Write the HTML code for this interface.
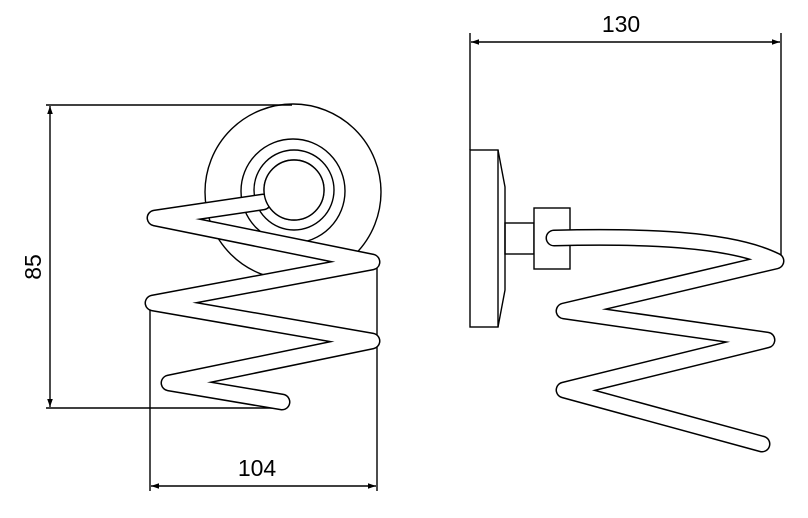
<!DOCTYPE html>
<html><head><meta charset="utf-8"><style>html,body{margin:0;padding:0;background:#fff}svg{display:block}</style></head>
<body>
<svg width="808" height="518" viewBox="0 0 808 518" xmlns="http://www.w3.org/2000/svg">
<defs>
<marker id="a" viewBox="0 0 10 10" refX="10" refY="5" markerWidth="10" markerHeight="8" orient="auto-start-reverse" markerUnits="userSpaceOnUse"><path d="M0,1.5 L10,5 L0,8.5 z" fill="#000"/></marker>
</defs>
<g fill="none" stroke="#000" stroke-width="1.4">
<line x1="46" y1="105" x2="292" y2="105"/>
<line x1="46" y1="408" x2="285" y2="408"/>
<line x1="50" y1="106" x2="50" y2="407" marker-start="url(#a)" marker-end="url(#a)"/>
<line x1="150" y1="300" x2="150" y2="491"/>
<line x1="377" y1="262" x2="377" y2="491"/>
<line x1="151" y1="486" x2="376" y2="486" marker-start="url(#a)" marker-end="url(#a)"/>
<circle cx="293" cy="192" r="88"/>
<circle cx="293" cy="191" r="52"/>
<circle cx="294" cy="190" r="40"/>
<circle cx="294" cy="190" r="30"/>
</g>
<polyline points="263,202 155,218 372,262 153,303 372,341 169,383 282,402" fill="none" stroke="#000" stroke-width="17" stroke-linejoin="round" stroke-linecap="round"/>
<polyline points="263,202 155,218 372,262 153,303 372,341 169,383 282,402" fill="none" stroke="#fff" stroke-width="14" stroke-linejoin="round" stroke-linecap="round"/>
<circle cx="294" cy="190" r="30" fill="#fff" stroke="#000" stroke-width="1.4"/>
<g fill="none" stroke="#000" stroke-width="1.4">
<line x1="470" y1="33" x2="470" y2="150"/>
<line x1="781" y1="33" x2="781" y2="262"/>
<line x1="471" y1="42" x2="780" y2="42" marker-start="url(#a)" marker-end="url(#a)"/>
<rect x="470" y="150" width="28" height="177" fill="#fff"/>
<path d="M498,150 L505,187 L505,290 L498,327"/>
<rect x="505" y="223" width="29" height="31"/>
<rect x="534" y="208" width="36" height="61" fill="#fff"/>
</g>
<path d="M554,238 C640,236 730,238 776,261 L564,311 L767,340 L564,390 L762,444" fill="none" stroke="#000" stroke-width="17" stroke-linejoin="round" stroke-linecap="round"/>
<path d="M554,238 C640,236 730,238 776,261 L564,311 L767,340 L564,390 L762,444" fill="none" stroke="#fff" stroke-width="14" stroke-linejoin="round" stroke-linecap="round"/>
<g font-family="Liberation Sans, sans-serif" font-size="23" fill="#000">
<text x="621" y="32" text-anchor="middle">130</text>
<text x="257" y="476" text-anchor="middle">104</text>
<text transform="translate(41,267) rotate(-90)" text-anchor="middle">85</text>
</g>
</svg>
</body></html>
